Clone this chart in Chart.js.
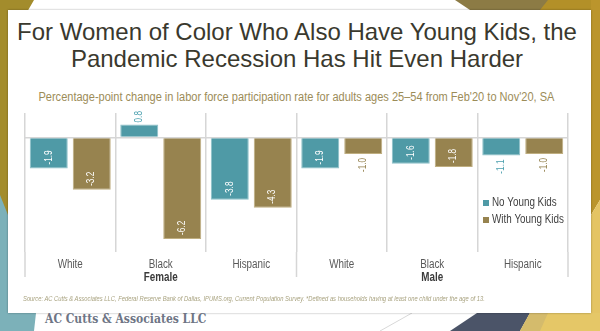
<!DOCTYPE html>
<html lang="en">

<head>
    <meta charset="UTF-8">
    <title>Labor force participation</title>
    <style>
        body { margin: 0; width: 600px; height: 331px; position: relative; overflow: hidden; background: #fff; font-family: 'Liberation Sans', Arial, sans-serif; }
        #bg { position: absolute; left: 0; top: 0; }
        #card { position: absolute; left: 8px; top: 10px; width: 583px; height: 303px; background: #fff; box-shadow: 0 0 2px rgba(0,0,0,0.35); }
        #title { position: absolute; left: 0; top: 18px; width: 594px; text-align: center; font-size: 24px; line-height: 27px; color: #3a392e; }
        .narrow { display: inline-block; white-space: nowrap; }
        #subtitle { position: absolute; left: 0; top: 89px; width: 592px; text-align: center; font-size: 12px; line-height: 16px; color: #9c8c58; }
        #subtitle .narrow { transform: scaleX(0.92); transform-origin: 50% 50%; }
        #source { position: absolute; left: 23px; top: 295px; font-style: italic; font-size: 7px; line-height: 8px; color: #a8a27f; }
        #source .narrow { transform: scaleX(0.83); transform-origin: 0 50%; }
        #footer { position: absolute; left: 45px; top: 312px; font-family: 'DejaVu Serif Condensed', 'DejaVu Serif', serif; font-weight: bold; font-size: 12px; color: #6e7585; white-space: nowrap; }
        #myChart { position: absolute; left: 0; top: 100px; }
    </style>
</head>

<body>
    <svg id="bg" width="600" height="331">
        <polygon points="0,0 34,0 8,45 8,235 0,245" fill="#a38c2c" />
        <polygon points="0,195 8,215 8,313 36,313 34,331 0,331" fill="#7cb1b9" />
        <polygon points="455,0 600,0 600,10 470,10" fill="#8c7b45" />
        <polygon points="548,0 600,0 600,10 540,10" fill="#b39028" />
        <polygon points="591,0 600,0 600,200 591,215" fill="#bb952c" />
        <polygon points="591,215 600,200 600,331 591,331" fill="#e4c464" />
        <polygon points="477,313 530,313 520,331 450,331" fill="#4b5468" />
        <polygon points="530,313 600,313 600,331 520,331" fill="#e5c767" />
        <polygon points="530,313 548,313 540,331 520,331" fill="#d4bb6c" />
        <line x1="380" y1="331" x2="412" y2="313" stroke="#d8d8d8" stroke-width="1" />
    </svg>
    <div id="card"></div>
    <div id="title">For Women of Color Who Also Have Young Kids, the<br>Pandemic Recession Has Hit Even Harder</div>
    <div id="subtitle"><span class="narrow">Percentage-point change in labor force participation rate for adults ages 25–54 from Feb'20 to Nov'20, SA</span></div>
    <canvas id="myChart" width="600" height="200"></canvas>
    <div id="source"><span class="narrow">Source: AC Cutts &amp; Associates LLC, Federal Reserve Bank of Dallas, IPUMS.org, Current Population Survey. *Defined as households having at least one child under the age of 13.</span></div>
    <div id="footer">AC Cutts &amp; Associates LLC</div>

    <script src="https://cdnjs.cloudflare.com/ajax/libs/Chart.js/4.4.1/chart.umd.js"></script>

    <script>
        var categories = ['White', 'Black', 'Hispanic', 'White', 'Black', 'Hispanic'];
        var groups = ['Female', 'Male'];
        var seriesNames = ['No Young Kids', 'With Young Kids'];
        var noKids = [-1.9, 0.8, -3.8, -1.9, -1.6, -1.1];
        var withKids = [-3.2, -6.2, -4.3, -1.0, -1.8, -1.0];

        var sans = "'Liberation Sans', Arial, sans-serif";
        var squeeze = 0.82;   // fake Arial Narrow
        var gridColor = '#d6d6d6';

        function narrowText(ctx, txt, x, y, align, angle) {
            ctx.save();
            ctx.translate(x, y);
            if (angle) ctx.rotate(angle);
            ctx.scale(squeeze, 1);
            ctx.textAlign = align;
            ctx.fillText(txt, 0, 0);
            ctx.restore();
        }

        // value labels, category + group names, group lines and the legend
        var extras = {
            id: 'extras',
            afterDatasetsDraw: function (chart) {
                var ctx = chart.ctx;
                ctx.save();
                ctx.font = '10px ' + sans;
                ctx.textBaseline = 'middle';
                chart.data.datasets.forEach(function (ds, di) {
                    chart.getDatasetMeta(di).data.forEach(function (bar, i) {
                        var v = ds.data[i];
                        var txt = v.toFixed(1);
                        var w = ctx.measureText(txt).width * squeeze;
                        var len = Math.abs(bar.base - bar.y);
                        var inside = len >= w + 8;
                        var y, align;
                        if (v < 0) {
                            if (inside) { y = bar.y - 4; align = 'left'; }
                            else { y = bar.y + 4; align = 'right'; }
                        } else {
                            if (inside) { y = bar.y + 4; align = 'right'; }
                            else { y = bar.y - 2; align = 'left'; }
                        }
                        ctx.fillStyle = inside ? '#ffffff' : ds.labelColor;
                        narrowText(ctx, txt, bar.x, y, align, -Math.PI / 2);
                    });
                });
                ctx.restore();
            },
            afterDraw: function (chart) {
                var ctx = chart.ctx;
                var x = chart.scales.x;
                var area = chart.chartArea;
                var size = categories.length / groups.length;
                ctx.save();
                // long ticks at the group edges
                ctx.strokeStyle = gridColor;
                ctx.lineWidth = 1.5;
                for (var g = 0; g <= groups.length; g++) {
                    var px;
                    if (g === 0) px = area.left;
                    else if (g === groups.length) px = area.right;
                    else px = (x.getPixelForTick(g * size - 1) + x.getPixelForTick(g * size)) / 2;
                    ctx.beginPath();
                    ctx.moveTo(px, area.bottom);
                    ctx.lineTo(px, area.bottom + 25);
                    ctx.stroke();
                }
                ctx.textBaseline = 'middle';
                // category names
                ctx.font = '12px ' + sans;
                ctx.fillStyle = '#595959';
                categories.forEach(function (name, i) {
                    narrowText(ctx, name, x.getPixelForTick(i), area.bottom + 13, 'center');
                });
                // group names
                ctx.font = 'bold 12px ' + sans;
                ctx.fillStyle = '#3b3b3b';
                groups.forEach(function (name, g) {
                    var mid = g * size + (size - 1) / 2;
                    narrowText(ctx, name, x.getPixelForTick(mid), area.bottom + 26, 'center');
                });
                // legend
                ctx.font = '12px ' + sans;
                chart.data.datasets.forEach(function (ds, di) {
                    var ly = area.top + 90 + di * 17;
                    ctx.fillStyle = ds.backgroundColor;
                    ctx.fillRect(area.right - 85, ly - 3, 6, 6);
                    ctx.fillStyle = '#3f3f3f';
                    narrowText(ctx, ds.label, area.right - 76, ly, 'left');
                });
                ctx.restore();
            }
        };

        var ctx = document.getElementById('myChart').getContext('2d');
        var myChart = new Chart(ctx, {
            type: 'bar',
            data: {
                labels: categories,
                datasets: [
                    {
                        label: seriesNames[0],
                        data: noKids,
                        backgroundColor: '#4f9aa6',
                        borderColor: '#8cc0c8',
                        borderWidth: 1,
                        labelColor: '#4a9fae'
                    },
                    {
                        label: seriesNames[1],
                        data: withKids,
                        backgroundColor: '#97834f',
                        borderColor: '#bfae80',
                        borderWidth: 1,
                        labelColor: '#948250'
                    }
                ]
            },
            options: {
                responsive: false,
                animation: false,
                layout: { padding: { left: 25, right: 32, top: 13, bottom: 8 } },
                categoryPercentage: 0.95,
                barPercentage: 0.884,
                plugins: {
                    legend: { display: false },
                    tooltip: { enabled: false }
                },
                scales: {
                    x: {
                        border: { display: false },
                        grid: { offset: true, color: gridColor, lineWidth: 1.5, drawTicks: false },
                        ticks: { display: false },
                        afterFit: function (s) { s.height = 40; }
                    },
                    y: {
                        min: -7,
                        max: 1.5,
                        border: { display: false },
                        ticks: { display: false, stepSize: 0.5 },
                        grid: {
                            drawTicks: false,
                            lineWidth: 1.5,
                            color: function (c) { return c.tick && c.tick.value === 0 ? gridColor : 'rgba(0,0,0,0)'; }
                        },
                        afterFit: function (s) { s.width = 0; }
                    }
                }
            },
            plugins: [extras]
        });
    </script>

</body>

</html>
